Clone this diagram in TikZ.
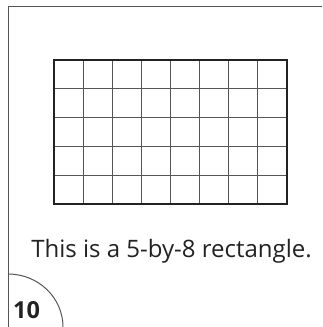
\documentclass[tikz,border=0pt]{standalone}
\usepackage{fontspec}
\setmainfont{Open Sans}
\usepackage{tikz}
\usetikzlibrary{positioning,calc}
\definecolor{ink}{HTML}{222222}
\definecolor{rule}{HTML}{555555}

\begin{document}
\begin{tikzpicture}[x=1pt,y=-1pt,
  frame/.style={draw=rule,line width=1pt},
  gridline/.style={draw=rule,line width=1.1pt},
  outline/.style={draw=ink,line width=2.2pt},
  caption/.style={font=\fontsize{24}{28}\selectfont,text=ink,inner sep=0pt,anchor=base},
  pagenum/.style={font=\fontsize{23.5}{27}\selectfont\bfseries,text=ink,inner sep=0pt,anchor=base west},
]
  \useasboundingbox (0,0) rectangle (322,327);
  % page frame
  \draw[frame] (322,6.5) -- (8,6.5) -- (8,327);
  % the 5-by-8 grid
  \coordinate (nw) at (54,60);
  \coordinate (se) at (287,204);
  \foreach \i in {1,...,7}
    \draw[gridline] ($(nw)!\i/8!(nw-|se)$) -- ($(nw|-se)!\i/8!(se)$);
  \foreach \j in {1,...,4}
    \draw[gridline] ($(nw)!\j/5!(nw|-se)$) -- ($(nw-|se)!\j/5!(se)$);
  \draw[outline] (nw) rectangle (se);
  % caption
  \node[caption] (cap) at (171.5,257.5) {This is a 5-by-8 rectangle.};
  % page number tab
  \draw[frame] (8,274) arc[start angle=-90,end angle=0,x radius=55,y radius=53];
  \node[pagenum] (num) at (13,318) {10};
\end{tikzpicture}
\end{document}
